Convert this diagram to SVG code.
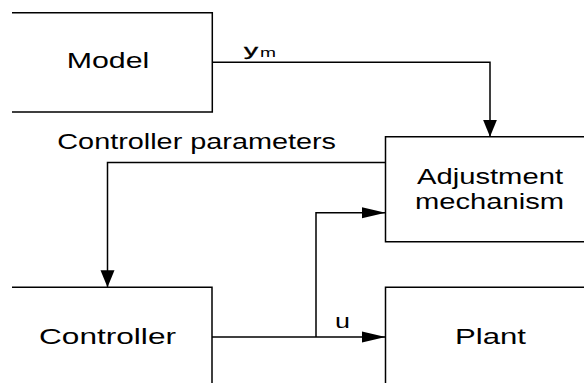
<svg xmlns="http://www.w3.org/2000/svg" width="584" height="383" viewBox="0 0 584 383">
<style>
.box{fill:none;stroke:#000;stroke-width:1.5}
.wire{fill:none;stroke:#000;stroke-width:1.5}
.lbl{font-family:"Liberation Sans",Arial,sans-serif;font-size:22.5px;fill:#000}
</style>
<defs>
<marker id="av" markerUnits="userSpaceOnUse" markerWidth="18" markerHeight="15" refX="17" refY="7" orient="auto" viewBox="0 0 18 14">
<path d="M0,0 L17,7 L0,14 z" fill="#000"/>
</marker>
<marker id="ah" markerUnits="userSpaceOnUse" markerWidth="24" markerHeight="12" refX="23.5" refY="5.5" orient="auto" viewBox="0 0 24 11">
<path d="M0,0 L23.5,5.5 L0,11 z" fill="#000"/>
</marker>
</defs>
<rect width="584" height="383" fill="#fff"/>
<g id="model">
<path class="box" d="M12,12.7 H212.3 V112 H12"/>
<text class="lbl" x="66.7" y="68" textLength="82.6" lengthAdjust="spacingAndGlyphs">Model</text>
</g>
<g id="adjustment">
<path class="box" d="M590,136.7 H385.5 V241.7 H590"/>
<text class="lbl" x="417" y="184" textLength="146" lengthAdjust="spacingAndGlyphs">Adjustment</text>
<text class="lbl" x="415" y="209.3" textLength="149" lengthAdjust="spacingAndGlyphs">mechanism</text>
</g>
<g id="controller">
<path class="box" d="M12,287.3 H212 V390"/>
<text class="lbl" x="39" y="344" textLength="137" lengthAdjust="spacingAndGlyphs">Controller</text>
</g>
<g id="plant">
<path class="box" d="M590,287.3 H385.5 V390"/>
<text class="lbl" x="455" y="344" textLength="71" lengthAdjust="spacingAndGlyphs">Plant</text>
</g>
<g id="connectors">
<path class="wire" d="M212.3,62.3 H490 V136.7" marker-end="url(#av)"/>
<path class="wire" d="M385.5,162.5 H107.5 V287.3" marker-end="url(#av)"/>
<path class="wire" d="M212,337 H385.5" marker-end="url(#ah)"/>
<path class="wire" d="M316,337 V212.7 H385.5" marker-end="url(#ah)"/>
<text class="lbl" x="57.3" y="149" textLength="278.7" lengthAdjust="spacingAndGlyphs">Controller parameters</text>
<text class="lbl" x="244" y="55.5" style="font-size:17px;stroke:#000;stroke-width:0.4" textLength="14" lengthAdjust="spacingAndGlyphs">y</text>
<text class="lbl" x="260" y="56.7" style="font-size:12.5px" textLength="16" lengthAdjust="spacingAndGlyphs">m</text>
<text class="lbl" x="335" y="328.3" style="font-size:20px" textLength="15" lengthAdjust="spacingAndGlyphs">u</text>
</g>
</svg>
